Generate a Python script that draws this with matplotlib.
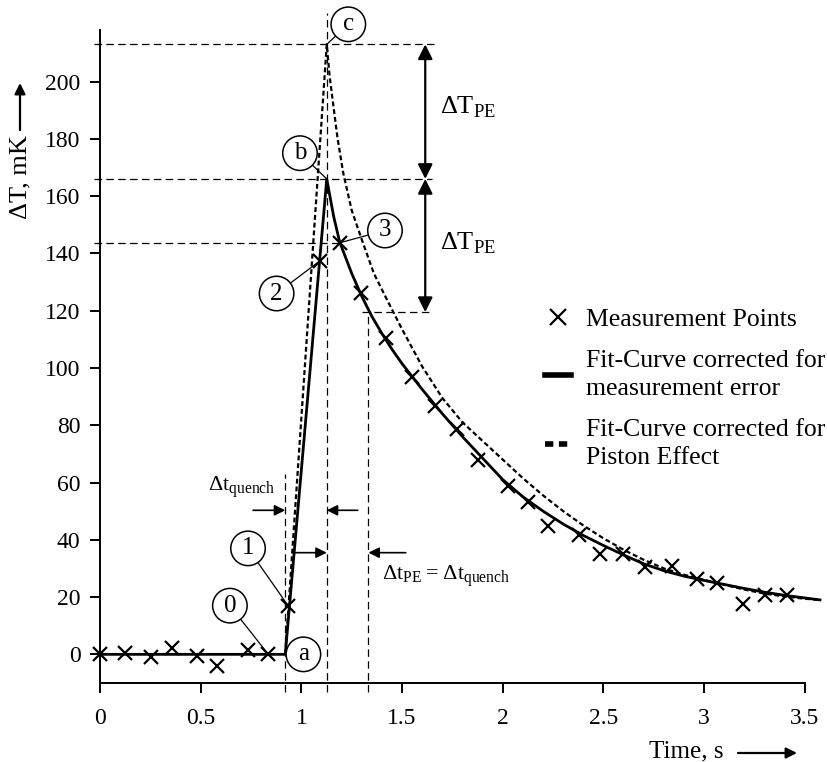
import matplotlib
matplotlib.use("Agg")
import matplotlib.pyplot as plt
from matplotlib.lines import Line2D
from matplotlib.patches import FancyArrowPatch

plt.rcParams["font.family"] = ["Liberation Serif", "DejaVu Serif"]
plt.rcParams["mathtext.fontset"] = "custom"
plt.rcParams["mathtext.rm"] = "Liberation Serif"

# measurement points (time in s, temperature rise in mK)
meas_t = [0.0, 0.124, 0.253, 0.359, 0.48, 0.579, 0.733, 0.836, 0.935, 1.092,
          1.19, 1.296, 1.42, 1.55, 1.665, 1.771, 1.878, 2.027, 2.127, 2.226,
          2.38, 2.483, 2.598, 2.706, 2.838, 2.963, 3.062, 3.194, 3.302, 3.41]
meas_T = [0.0, 0.6, -0.9, 2.3, -0.6, -4.2, 1.6, 0.0, 16.9, 137.4,
          143.7, 126.3, 110.6, 96.8, 86.6, 78.8, 68.0, 58.7, 53.2, 44.7,
          41.6, 34.9, 34.9, 30.5, 30.7, 26.4, 24.9, 17.5, 20.6, 20.6]

# fit curve corrected for measurement error
fit_t = [0.0, 0.92, 1.126, 1.16, 1.19, 1.25, 1.30, 1.35, 1.40, 1.45, 1.50,
         1.55, 1.60, 1.70, 1.80, 1.90, 2.00, 2.10, 2.20, 2.30, 2.40, 2.50,
         2.60, 2.70, 2.80, 2.90, 3.00, 3.10, 3.20, 3.30, 3.40, 3.50, 3.575]
fit_T = [0.0, 0.0, 166.0, 153.0, 144.0, 133.0, 125.0, 118.0, 112.0, 106.5, 101.5,
         97.0, 92.5, 84.0, 76.0, 68.5, 61.0, 55.0, 50.0, 45.5, 41.5, 38.0,
         34.7, 31.6, 29.2, 27.3, 25.8, 24.4, 23.0, 21.7, 20.6, 19.7, 19.0]

# fit curve corrected for piston effect
pe_t = [0.92, 1.126, 1.14, 1.158, 1.18, 1.208, 1.25, 1.307, 1.36, 1.424, 1.50,
        1.60, 1.70, 1.80, 1.90, 2.00, 2.10, 2.20, 2.30, 2.40, 2.50, 2.60,
        2.70, 2.80, 2.90, 3.00, 3.10, 3.20, 3.30, 3.40, 3.50, 3.575]
pe_T = [0.0, 213.0, 202.0, 192.0, 180.0, 168.0, 155.0, 143.4, 133.0, 124.0, 113.5,
        100.5, 89.5, 81.0, 74.5, 68.0, 61.5, 55.5, 50.0, 45.0, 40.5, 36.5,
        33.0, 30.0, 27.8, 26.0, 24.3, 22.6, 21.2, 20.2, 19.4, 19.0]

# characteristic points
t_quench = 0.92
t_peak = 1.126
t_shift = 1.333
T_peak_meas = 166.0
T_peak_pe = 213.0
T_shift = 119.5
T_point3 = 143.5

xticks = [0, 0.5, 1, 1.5, 2, 2.5, 3, 3.5]
xtick_labels = ["0", "0.5", "1", "1.5", "2", "2.5", "3", "3.5"]
yticks = [0, 20, 40, 60, 80, 100, 120, 140, 160, 180, 200]

fig = plt.figure(figsize=(8.27, 7.62), dpi=100)
ax = fig.add_axes([0.1209, 0.1037, 0.8767, 0.8832])

guide = dict(color="k", lw=0.9, ls=(0, (6, 3.5)), clip_on=False)
ax.plot([-0.03, 1.67], [T_peak_pe] * 2, **guide)
ax.plot([-0.03, 1.65], [T_peak_meas] * 2, **guide)
ax.plot([-0.03, 1.19], [T_point3] * 2, **guide)
ax.plot([1.30, 1.65], [T_shift] * 2, **guide)
ax.plot([t_peak] * 2, [-13, 224], **guide)
ax.plot([t_quench] * 2, [-13, 63], **guide)
ax.plot([t_shift] * 2, [-13, T_shift], **guide)

ax.plot(pe_t, pe_T, color="k", lw=1.6, ls=(0, (2.2, 1.3)), clip_on=False)
ax.plot(fit_t, fit_T, color="k", lw=2.0, clip_on=False)
ax.plot(meas_t, meas_T, ls="none", marker="x", ms=10, mew=1.6, color="k", clip_on=False)

# circled labels with leader lines
circ = dict(boxstyle="circle,pad=0.25", fc="white", ec="k", lw=1.1)
leader = dict(arrowstyle="-", lw=0.9, color="k", shrinkA=0, shrinkB=0)
labels = [("c", (1.233, 220), (t_peak, T_peak_pe)),
          ("b", (0.993, 175), (t_peak, T_peak_meas)),
          ("3", (1.415, 148), (1.19, 143.7)),
          ("2", (0.877, 126), (1.092, 137.4)),
          ("1", (0.735, 37), (0.935, 16.9)),
          ("0", (0.645, 17), (0.836, 0.0))]
for txt, pos, target in labels:
    ax.annotate(txt, xy=target, xytext=pos, fontsize=18, ha="center", va="center",
                bbox=circ, arrowprops=leader)
ax.text(1.01, 0, "a", fontsize=18, ha="center", va="center", bbox=circ)

# delta T arrows
dbl = dict(arrowstyle="<|-|>", lw=1.6, color="k", mutation_scale=22, shrinkA=0, shrinkB=0)
ax.annotate("", xy=(1.615, T_peak_pe), xytext=(1.615, T_peak_meas), arrowprops=dbl)
ax.annotate("", xy=(1.615, T_peak_meas), xytext=(1.615, T_shift), arrowprops=dbl)
ax.text(1.688, 191, r"$\mathrm{\Delta T}_{\mathrm{PE}}$", fontsize=19, va="center")
ax.text(1.688, 143.5, r"$\mathrm{\Delta T}_{\mathrm{PE}}$", fontsize=19, va="center")

# delta t arrows
one = dict(arrowstyle="-|>", lw=1.2, color="k", mutation_scale=16, shrinkA=0, shrinkB=0)
ax.annotate("", xy=(t_quench, 50.3), xytext=(0.76, 50.3), arrowprops=one)
ax.annotate("", xy=(t_peak, 50.3), xytext=(1.28, 50.3), arrowprops=one)
ax.annotate("", xy=(t_peak, 35.5), xytext=(0.968, 35.5), arrowprops=one)
ax.annotate("", xy=(t_shift, 35.5), xytext=(1.518, 35.5), arrowprops=one)
ax.text(0.536, 58, r"$\mathrm{\Delta t}_{\mathrm{quench}}$", fontsize=16, va="center")
ax.text(1.398, 27, r"$\mathrm{\Delta t}_{\mathrm{PE}} = \mathrm{\Delta t}_{\mathrm{quench}}$",
        fontsize=16, va="center")

ax.set_xlim(0, 3.6)
ax.set_ylim(-10, 225)
for side in ("top", "right"):
    ax.spines[side].set_visible(False)
ax.spines["bottom"].set_bounds(0, 3.5)
ax.spines["left"].set_bounds(-10, 218)
ax.spines["bottom"].set_linewidth(1.4)
ax.spines["left"].set_linewidth(1.4)
ax.set_xticks(xticks, xtick_labels)
ax.set_yticks(yticks)
ax.tick_params(direction="out", length=7, width=1.4, labelsize=17)
ax.tick_params(axis="x", pad=11)
ax.tick_params(axis="y", pad=7)

# legend
handles = [Line2D([], [], ls="none", marker="x", ms=11, mew=1.6, color="k"),
           Line2D([], [], color="k", lw=4),
           Line2D([], [], color="k", lw=4, ls=(0, (1.5, 1.0)))]
names = ["Measurement Points",
         "Fit-Curve corrected for\nmeasurement error",
         "Fit-Curve corrected for\nPiston Effect"]
leg = ax.legend(handles, names, loc="upper left", bbox_to_anchor=(545 / 827, 1 - 308 / 762),
                bbox_transform=fig.transFigure, frameon=False, fontsize=18.5, handlelength=1.0,
                handletextpad=0.6, labelspacing=0.75, borderpad=0, borderaxespad=0)
for t in leg.get_texts():
    t.set_linespacing(1.35)

# axis labels with arrows
fig.text(20 / 827, 1 - 177 / 762, "ΔT, mK", rotation=90, fontsize=19, ha="center", va="center")
fig.text(686 / 827, 1 - 751 / 762, "Time, s", fontsize=18, ha="center", va="center")
arrow = dict(arrowstyle="-|>", lw=1.6, color="k", mutation_scale=16, shrinkA=0, shrinkB=0)
fig.add_artist(FancyArrowPatch((20 / 827, 1 - 130 / 762), (20 / 827, 1 - 83 / 762),
                               transform=fig.transFigure, **arrow))
fig.add_artist(FancyArrowPatch((738 / 827, 1 - 753 / 762), (797 / 827, 1 - 753 / 762),
                               transform=fig.transFigure, **arrow))

fig.savefig("out.png", dpi=100)
